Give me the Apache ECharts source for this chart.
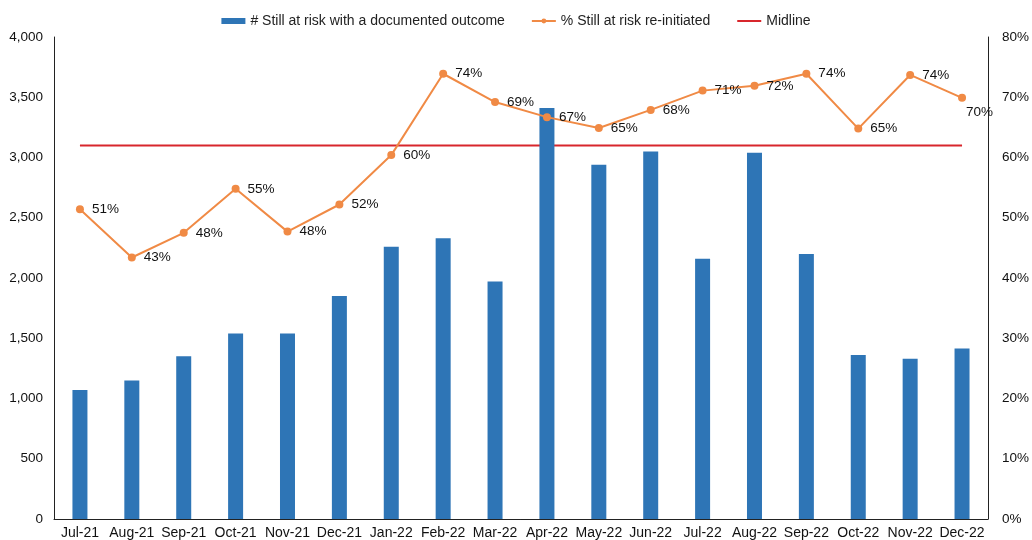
<!DOCTYPE html>
<html><head><meta charset="utf-8">
<script src="https://cdn.jsdelivr.net/npm/echarts@6/dist/echarts.min.js"></script>
<style>html,body{margin:0;padding:0;background:#fff}#c{width:1032px;height:540px}</style>
</head><body><div id="c"></div>
<script>
const categories = ["Jul-21","Aug-21","Sep-21","Oct-21","Nov-21","Dec-21","Jan-22","Feb-22","Mar-22","Apr-22","May-22","Jun-22","Jul-22","Aug-22","Sep-22","Oct-22","Nov-22","Dec-22"];
const stillAtRisk = [1070,1150,1350,1540,1540,1850,2260,2330,1970,3410,2940,3050,2160,3040,2200,1360,1330,1415];
const pctReinitiated = [51.4,43.4,47.5,54.8,47.7,52.2,60.4,73.9,69.2,66.7,64.9,67.9,71.1,71.9,73.9,64.8,73.7,69.9];
const midline = 62;
const leftTicks = {min:0,max:4000,interval:500};
const rightTicks = {min:0,max:80,interval:10};

const font = "Liberation Sans, Arial, sans-serif";
const chart = echarts.init(document.getElementById('c'), null, {renderer:'canvas'});
chart.setOption({
  animation:false,
  textStyle:{fontFamily:font},
  legend:{
    top:9, left:'center', itemGap:26, itemWidth:24, itemHeight:6,
    textStyle:{fontSize:14,color:'#222',fontFamily:font},
    data:[
      {name:'# Still at risk with a documented outcome', icon:'rect'},
      {name:'% Still at risk re-initiated'},
      {name:'Midline', itemStyle:{opacity:0}}
    ]
  },
  grid:{left:54,right:40,top:37,bottom:20,containLabel:false},
  xAxis:{
    type:'category', data:categories, boundaryGap:true,
    axisLine:{lineStyle:{color:'#222',width:1}}, axisTick:{show:false},
    axisLabel:{color:'#111',fontSize:14,margin:7,interval:0,fontFamily:font}
  },
  yAxis:[
    {type:'value',min:leftTicks.min,max:leftTicks.max,interval:leftTicks.interval,
     axisLine:{show:true,lineStyle:{color:'#222'}},axisTick:{show:false},splitLine:{show:false},
     axisLabel:{color:'#111',fontSize:13.5,margin:11,fontFamily:font,formatter:v=>v.toLocaleString('en-US')}},
    {type:'value',min:rightTicks.min,max:rightTicks.max,interval:rightTicks.interval,position:'right',
     axisLine:{show:true,lineStyle:{color:'#222'}},axisTick:{show:false},splitLine:{show:false},
     axisLabel:{color:'#111',fontSize:13.5,margin:14,fontFamily:font,formatter:v=>v+'%'}}
  ],
  series:[
    {name:'# Still at risk with a documented outcome',type:'bar',data:stillAtRisk,barWidth:15,
     itemStyle:{color:'#2e75b6'}},
    {name:'% Still at risk re-initiated',type:'line',yAxisIndex:1,data:pctReinitiated.map((v,i)=>{
        const o={value:v};
        if(i===categories.length-1) o.label={offset:[-8,14]};
        return o;}),
     symbol:'circle',symbolSize:8,lineStyle:{color:'#f08a45',width:2},itemStyle:{color:'#f08a45'},
     label:{show:true,position:'right',distance:8,color:'#111',fontSize:13.5,fontFamily:font,
       formatter:p=>Math.round(p.value)+'%'}},
    {name:'Midline',type:'line',yAxisIndex:1,data:categories.map(()=>midline),symbol:'none',
     lineStyle:{color:'#d8262c',width:2},itemStyle:{color:'#c0262c'},z:1}
  ]
});
</script></body></html>
